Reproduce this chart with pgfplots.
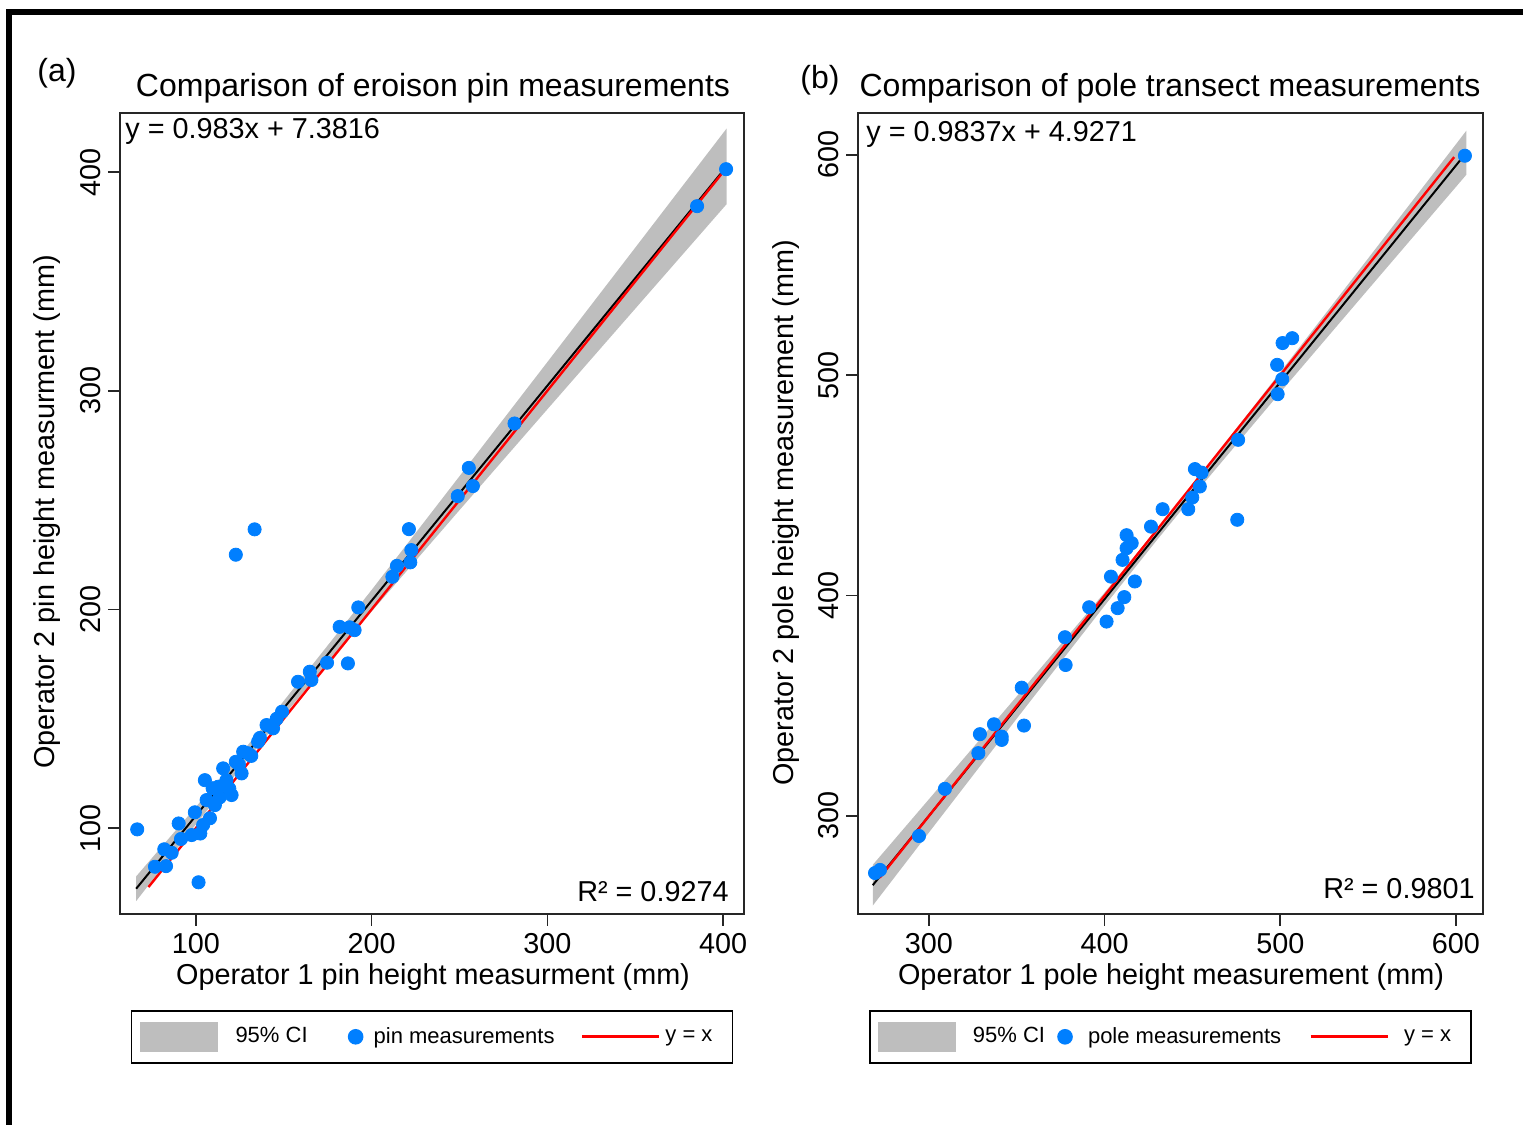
\documentclass[border=0pt]{standalone}
\usepackage{fontspec}
\setmainfont{Liberation Sans}
\usepackage{pgfplots}
\pgfplotsset{compat=1.18}

\definecolor{ptblue}{RGB}{0,127,255}
\definecolor{cigray}{RGB}{190,190,190}
\definecolor{fitred}{RGB}{255,0,0}

% 1 px of the original = 0.5pt
\newcommand{\bigf}{\fontsize{14.4}{16}\selectfont}
\newcommand{\titf}{\fontsize{16}{18}\selectfont}
\newcommand{\legf}{\fontsize{11}{13}\selectfont}

\pgfplotsset{
  panel/.style={
    scale only axis, anchor=south west,
    axis line style={line width=0.9pt, black!85},
    tick align=outside, xtick pos=lower, ytick pos=left,
    major tick length=6pt,
    tick style={line width=0.8pt, black!85},
    /pgf/number format/assume math mode=true,
    ticklabel style={font=\bigf},
    yticklabel style={rotate=90, anchor=south},
    legend columns=3,
    legend style={at={(0.5,0)}, anchor=north, yshift=-48pt, draw=black,
      line width=0.8pt, inner xsep=4pt, inner ysep=5.5pt, font=\legf,
      nodes={inner sep=0pt}, cells={anchor=west}},
  },
  cilegend/.style={legend image code/.code={\fill[cigray] (0pt,-7.5pt) rectangle (39pt,7.5pt);}},
  dotlegend/.style={legend image code/.code={\draw[#1, mark size=3.5pt] plot coordinates {(3.5pt,0pt)};}},
  linelegend/.style={legend image code/.code={\draw[fitred, line width=1.4pt] (0pt,0pt) -- (38.5pt,0pt);}},
}

\begin{document}
\begin{tikzpicture}
\useasboundingbox (0,0) rectangle (761.5pt,562.5pt);
\draw[line width=3pt] (4.25pt,0pt) -- (4.25pt,556.5pt) -- (761.5pt,556.5pt);

% ---------- (a) erosion pins ----------
\begin{axis}[panel, at={(60pt,105.5pt)}, width=312pt, height=400.5pt,
    xmin=56.8, xmax=411.9, ymin=60.7, ymax=427,
    xtick={100,200,300,400}, ytick={100,200,300,400},
    legend style={/tikz/column 1/.style={column sep=9pt},
                  /tikz/column 2/.style={column sep=20.5pt},
                  /tikz/column 3/.style={column sep=5.5pt},
                  /tikz/column 4/.style={column sep=13pt},
                  /tikz/column 5/.style={column sep=2.5pt}}]
\addplot[fill=cigray, draw=none, cilegend] coordinates {
  (66,77.9) (100,109.65) (140,148.0) (200,208.9) (250,260.9) (300,313.1) (350,365.4) (402,419.9)
  (402,385.3) (350,337.5) (300,291.5) (250,245.4) (200,199.06) (140,142.0) (100,101.71) (66,66.6)
} -- cycle;
\addlegendentry{95\% CI}
\addplot[black, line width=1pt, forget plot] coordinates {(66,72.26) (402,402.55)};
\addplot[only marks, mark=*, mark size=3.3pt, color=ptblue, dotlegend] coordinates {
  (66.6,99.4) (101.5,75.2) (76.7,82.3) (83.0,82.6) (82.0,90.3) (86.2,88.7)
  (90.2,102.1) (91.5,95.0) (97.6,96.8) (99.4,107.2) (104.1,101.4) (105.1,121.9)
  (106.1,112.8) (109.5,118.2) (110.8,110.5) (112.7,118.9) (115.5,127.3) (117.4,121.9)
  (120.3,115.1) (122.7,130.3) (126.0,125.0) (126.9,134.9) (129.7,134.2) (135.4,139.5)
  (136.4,141.2) (140.2,147.1) (143.9,145.6) (149.0,153.2) (158.1,166.9) (164.8,171.5)
  (165.7,167.7) (174.6,175.6) (186.5,175.3) (181.8,192.0) (187.5,191.8) (190.3,190.5)
  (192.4,200.9) (211.8,214.9) (214.4,219.9) (221.2,236.7) (222.0,221.5) (222.6,227.1)
  (249.0,251.8) (255.3,264.7) (257.6,256.4) (281.3,285.0) (385.2,384.4) (401.7,401.3)
  (122.7,225.0) (133.4,236.6)
  (102.5,97.5) (108.0,104.5) (113.5,114.0) (119.0,118.0) (124.5,129.0) (131.5,133.0) (146.0,150.0)
};
\addlegendentry{pin measurements}
\addplot[fitred, line width=1.2pt, linelegend] coordinates {(73,73) (400,400)};
\addlegendentry{y = x\hspace*{6pt}}
\end{axis}

% ---------- (b) pole transects ----------
\begin{axis}[panel, at={(429pt,105.5pt)}, width=312.5pt, height=400.5pt,
    xmin=259.6, xmax=615.4, ymin=255.5, ymax=619,
    xtick={300,400,500,600}, ytick={300,400,500,600},
    legend style={/tikz/column 1/.style={column sep=8.5pt},
                  /tikz/column 2/.style={column sep=6.5pt},
                  /tikz/column 3/.style={column sep=8pt},
                  /tikz/column 4/.style={column sep=14pt},
                  /tikz/column 5/.style={column sep=7.5pt}}]
\addplot[fill=cigray, draw=none, cilegend] coordinates {
  (268,277.8) (300,307.6) (350,354.3) (400,401.4) (430,430.4) (450,450.3) (500,501.4) (550,553.0) (606,611.05)
  (606,591.05) (550,538.9) (500,492.2) (450,444.9) (430,425.4) (400,395.4) (350,344.2) (300,292.5) (268,259.3)
} -- cycle;
\addlegendentry{95\% CI}
\addplot[black, line width=1pt, forget plot] coordinates {(268,268.56) (605,600.1)};
\addplot[only marks, mark=*, mark size=3.3pt, color=ptblue, dotlegend] coordinates {
  (269.3,274.1) (272.1,275.5) (294.3,290.9) (309.1,312.3) (328.1,328.5) (329.0,337.1)
  (337.0,341.6) (341.4,336.0) (341.4,334.5) (352.8,358.2) (354.1,341.0) (377.4,381.1)
  (377.8,368.5) (391.2,394.7) (401.1,388.2) (403.6,408.6) (407.4,394.3) (411.2,399.3)
  (410.2,416.2) (412.5,427.4) (415.4,423.8) (412.5,421.5) (417.2,406.4) (426.4,431.3)
  (433.0,439.2) (447.6,439.2) (449.9,444.5) (451.4,457.4) (455.2,455.8) (454.2,449.5)
  (476.0,470.7) (475.5,434.4) (498.2,504.7) (501.1,498.2) (498.5,491.4) (501.3,514.6)
  (506.8,516.8) (605.1,599.6)
};
\addlegendentry{pole measurements}
\addplot[fitred, line width=1.2pt, linelegend] coordinates {(272,272) (599,599)};
\addlegendentry{y = x\hspace*{6pt}}
\end{axis}

% ---------- titles and labels ----------
\node[font=\titf] at (28.5pt,526pt) {(a)};
\node[font=\titf] at (216.5pt,518.5pt) {Comparison of eroison pin measurements};
\node[font=\titf] at (410pt,522.5pt) {(b)};
\node[font=\titf] at (585pt,518.5pt) {Comparison of pole transect measurements};
\node[font=\bigf] at (216.5pt,74pt) {Operator 1 pin height measurment (mm)};
\node[font=\bigf] at (585.5pt,74pt) {Operator 1 pole height measurement (mm)};
\node[font=\bigf, rotate=90] at (23.5pt,306.5pt) {Operator 2 pin height measurment (mm)};
\node[font=\bigf, rotate=90] at (393pt,306pt) {Operator 2 pole height measurement (mm)};
\node[font=\bigf, anchor=west, inner sep=0pt] at (62.5pt,497pt) {y = 0.983x + 7.3816};
\node[font=\bigf, anchor=west, inner sep=0pt] at (433pt,495.5pt) {y = 0.9837x + 4.9271};
\node[font=\bigf, anchor=east, inner sep=0pt] at (364.5pt,116.5pt) {R² = 0.9274};
\node[font=\bigf, anchor=east, inner sep=0pt] at (737.5pt,118pt) {R² = 0.9801};
\end{tikzpicture}
\end{document}
